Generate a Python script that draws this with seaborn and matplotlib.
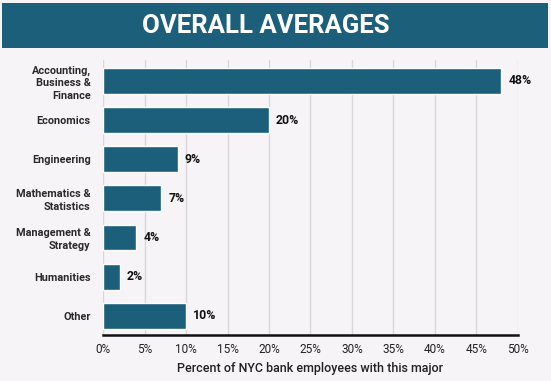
import matplotlib
matplotlib.use("Agg")
import matplotlib.pyplot as plt
import seaborn as sns
import pandas as pd
from matplotlib.patches import Rectangle

# data
majors = ["Accounting,\nBusiness &\nFinance", "Economics", "Engineering",
          "Mathematics &\nStatistics", "Management &\nStrategy", "Humanities", "Other"]
percent = [48, 20, 9, 7, 4, 2, 10]
xticks = [0, 5, 10, 15, 20, 25, 30, 35, 40, 45, 50]

BAR = "#1c5f7b"
BG = "#f6f4f7"

sns.set_theme(style="white")
plt.rcParams["font.family"] = ["Roboto", "DejaVu Sans"]

df = pd.DataFrame({"major": majors, "percent": percent})

fig = plt.figure(figsize=(5.51, 3.81), dpi=100, facecolor=BG)
ax = fig.add_axes([0.187, 0.121, 0.753, 0.722], facecolor=BG)

# header band
fig.patches.append(Rectangle((0.004, 0.874), 0.991, 0.118, transform=fig.transFigure,
                             facecolor=BAR, edgecolor="none", zorder=0))
fig.text(0.482, 0.933, "OVERALL AVERAGES", ha="center", va="center",
         color="white", fontsize=18.5, fontweight="bold")

sns.barplot(data=df, x="percent", y="major", color=BAR, width=0.66,
            saturation=1, ax=ax, zorder=3)

ax.set_xlim(0, 50)
ax.set_ylim(6.49, -0.54)
ax.set_xticks(xticks)
ax.set_xticklabels([f"{t}%" for t in xticks], fontsize=8.5, color="#222222")
ax.grid(axis="x", color="#d8d6da", linewidth=1, zorder=0)
ax.set_axisbelow(True)
for s in ["top", "right", "left"]:
    ax.spines[s].set_visible(False)
ax.spines["bottom"].set_color("#111111")
ax.spines["bottom"].set_linewidth(1.8)
ax.tick_params(axis="both", length=0, pad=6)
ax.tick_params(axis="y", pad=9)
for lbl in ax.get_yticklabels():
    lbl.set_fontsize(7.8)
    lbl.set_fontweight("semibold")
    lbl.set_color("#2a2a2a")
    lbl.set_linespacing(1.3)
    lbl.set_multialignment("right")

ax.set_ylabel("")
ax.set_xlabel("Percent of NYC bank employees with this major", fontsize=9,
              fontweight="medium", color="#222222", labelpad=4)

for i, v in enumerate(percent):
    ax.text(v + 0.85, i, f"{v}%", va="center", ha="left", fontsize=8.8,
            fontweight="bold", color="#111111")

fig.savefig("out.png", dpi=100, facecolor=BG)
